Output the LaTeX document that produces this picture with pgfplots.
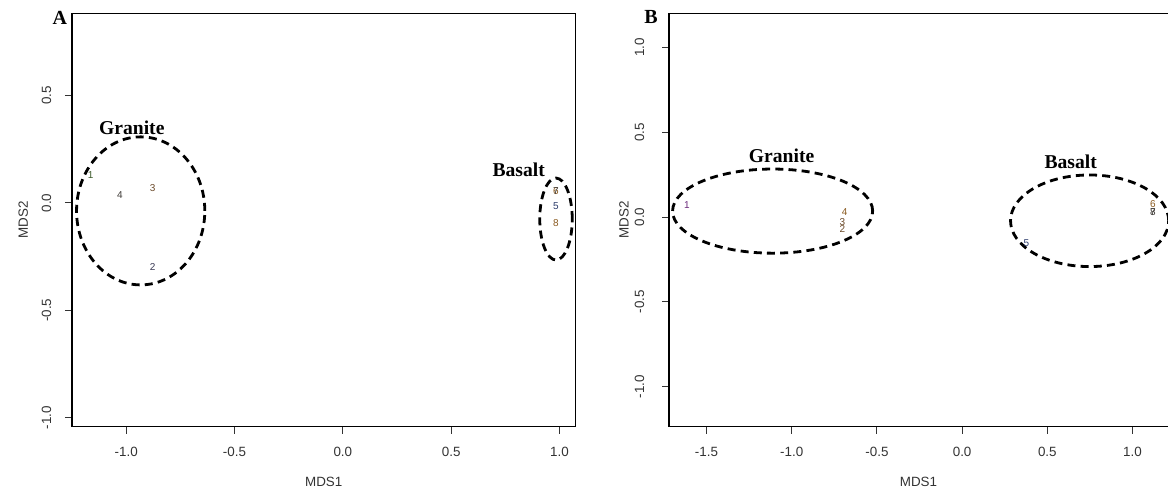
\documentclass[border=0pt]{standalone}
\usepackage{pgfplots}
\pgfplotsset{compat=1.18}
\usepackage{fontspec}
\setmainfont{Liberation Sans}
\newfontfamily\serifb{Liberation Serif}
\definecolor{tk}{HTML}{333333}
\definecolor{cgreen}{HTML}{3C5A2A}
\definecolor{cbrown}{HTML}{6B4A2A}
\definecolor{cslate}{HTML}{3A3A55}
\definecolor{cgrey}{HTML}{3E3A36}
\definecolor{cpurple}{HTML}{6A2A7A}
\definecolor{corange}{HTML}{8A5A20}
\definecolor{cblue}{HTML}{2A3A6A}
\tikzset{
  grp/.style={font=\serifb\bfseries\fontsize{9.8}{10}\selectfont, anchor=base, inner sep=0pt},
  ell/.style={line width=1.4pt, dash pattern=on 4pt off 2.6pt},
}
\begin{document}
\begin{tikzpicture}
\path[use as bounding box] (0,0) rectangle (584pt,247.5pt);
\pgfplotsset{
  mds/.style={scale only axis, height=206.7pt, anchor=south west,
    tick align=outside, major tick length=3.5pt, xtick pos=bottom, ytick pos=left,
    tick style={tk, line width=0.5pt}, axis line style={black, line width=0.7pt},
    ticklabel style={font=\fontsize{6.7}{7}\selectfont, text=tk},
    xticklabel style={anchor=north, inner sep=0pt},
    yticklabel style={rotate=90, anchor=south, inner sep=0pt},
    xticklabel shift=6.7pt,
    label style={font=\fontsize{6.7}{7}\selectfont, text=tk},
    xlabel=MDS1, ylabel=MDS2,
    title style={font=\serifb\bfseries\fontsize{10}{10}\selectfont, anchor=center, inner sep=0pt, yshift=-6pt},
  },
  lab/.style={draw=none, mark=none, nodes near coords, point meta=explicit symbolic,
    nodes near coords style={anchor=center, inner sep=0pt, font=\fontsize{5}{5}\selectfont, text=#1}},
}
% Panel A
\begin{axis}[mds, at={(36pt,34.15pt)}, width=251.75pt,
  xmin=-1.25, xmax=1.074, ymin=-1.043, ymax=0.884,
  xtick={-1,-0.5,0,0.5,1}, xticklabels={-1.0,-0.5,0.0,0.5,1.0},
  ytick={-1,-0.5,0,0.5}, yticklabels={-1.0,-0.5,0.0,0.5},
  yticklabel shift=6.7pt,
  xlabel style={at={(axis description cs:0.5,-0.133)}, anchor=center},
  ylabel style={at={(axis description cs:-0.097,0.5)}, anchor=center, rotate=0},
  title={A}, title style={at={(axis description cs:-0.024,0.99)}},
]
\addplot[lab=cgreen] coordinates {(-1.164,0.131)[1]};
\addplot[lab=cslate] coordinates {(-0.878,-0.297)[2]};
\addplot[lab=cbrown] coordinates {(-0.878,0.069)[3]};
\addplot[lab=cgrey] coordinates {(-1.029,0.037)[4]};
\addplot[lab=cblue] coordinates {(0.983,-0.017)[5]};
\addplot[lab=corange] coordinates {(0.983,0.057)[6]};
\addplot[lab=cgrey] coordinates {(0.983,0.057)[7]};
\addplot[lab=corange] coordinates {(0.983,-0.092)[8]};
\draw[ell] (axis cs:-0.933,-0.037) ellipse [x radius=0.296, y radius=0.345];
\draw[ell] (axis cs:0.984,-0.075) ellipse [x radius=0.075, y radius=0.191];
\node[grp] at (axis cs:-0.974,0.317) {Granite};
\node[grp] at (axis cs:0.812,0.121) {Basalt};
\end{axis}
% Panel B
\begin{axis}[mds, at={(334.5pt,34.15pt)}, width=249.5pt,
  axis x line*=box, axis y line*=left, axis line style={-},
  xmin=-1.72, xmax=1.208, ymin=-1.236, ymax=1.201,
  xtick={-1.5,-1,-0.5,0,0.5,1}, xticklabels={-1.5,-1.0,-0.5,0.0,0.5,1.0},
  ytick={-1,-0.5,0,0.5,1}, yticklabels={-1.0,-0.5,0.0,0.5,1.0},
  yticklabel shift=8.7pt,
  xlabel style={at={(axis description cs:0.5,-0.133)}, anchor=center},
  ylabel style={at={(axis description cs:-0.090,0.5)}, anchor=center, rotate=0},
  title={B}, title style={at={(axis description cs:-0.036,0.99)}},
]
\addplot[lab=cpurple] coordinates {(-1.615,0.071)[1]};
\addplot[lab=cbrown] coordinates {(-0.703,-0.072)[2]};
\addplot[lab=cbrown] coordinates {(-0.703,-0.028)[3]};
\addplot[lab=corange] coordinates {(-0.690,0.028)[4]};
\addplot[lab=cblue] coordinates {(0.377,-0.153)[5]};
\addplot[lab=corange] coordinates {(1.120,0.076)[6]};
\addplot[lab=cgrey] coordinates {(1.120,0.027)[7]};
\addplot[lab=cgrey] coordinates {(1.120,0.027)[8]};
\draw[ell] (axis cs:-1.112,0.035) ellipse [x radius=0.587, y radius=0.248];
\draw[ell] (axis cs:0.748,-0.022) ellipse [x radius=0.464, y radius=0.270];
\node[grp] at (axis cs:-1.059,0.324) {Granite};
\node[grp] at (axis cs:0.637,0.289) {Basalt};
\end{axis}
\end{tikzpicture}
\end{document}
